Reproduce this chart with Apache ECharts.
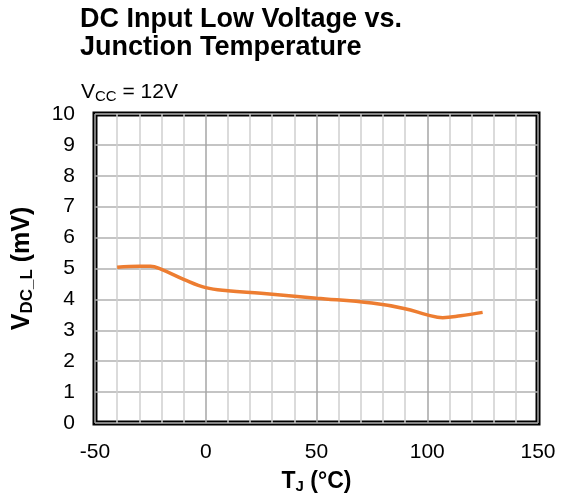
<!DOCTYPE html>
<html><head><meta charset="utf-8">
<script src="https://cdn.jsdelivr.net/npm/echarts@6/dist/echarts.min.js"></script>
<style>html,body{margin:0;padding:0;background:#fff}#c{width:562px;height:499px}</style>
</head><body><div id="c"></div>
<script>
const temps = [-40, -30, -25, -20, -10, 0, 10, 25, 50, 75, 90, 100, 107, 115, 125];
const vdcl  = [5.04, 5.07, 5.07, 4.97, 4.65, 4.38, 4.28, 4.20, 4.04, 3.88, 3.70, 3.50, 3.41, 3.47, 3.58];
const xMin = -50, xMax = 150, yMin = 0, yMax = 10;

const F = 'Liberation Sans, Arial, sans-serif';
const chart = echarts.init(document.getElementById('c'), null, {renderer:'canvas'});
chart.setOption({
  animation: false,
  backgroundColor: '#fff',
  title: [{
    text: 'DC Input Low Voltage vs.\nJunction Temperature',
    left: 80, top: 6, padding: 0,
    textStyle: {fontFamily: F, fontSize: 27, fontWeight: 'bold', color: '#000', lineHeight: 28}
  },{
    text: '{v|V}{s|CC}{v| = 12V}',
    left: 81, top: 80, padding: 0,
    textStyle: {fontWeight: 'normal', rich: {
      v: {fontFamily: F, fontSize: 21, fontWeight: 'normal', color: '#000'},
      s: {fontFamily: F, fontSize: 15, fontWeight: 'normal', color: '#000', padding: [9,0,0,0]}
    }}
  }],
  grid: {left: 95, right: 24, top: 114, bottom: 76, show: true, borderColor: '#000', borderWidth: 5},
  xAxis: {
    type: 'value', min: xMin, max: xMax, interval: 10,
    name: '{b|T}{bs|J}{b| (°C)}', nameLocation: 'middle', nameGap: 46,
    nameTextStyle: {rich: {
      b: {fontFamily: F, fontSize: 23, fontWeight: 'bold', color: '#000'},
      bs: {fontFamily: F, fontSize: 15, fontWeight: 'bold', color: '#000', padding: [10,0,0,0]}
    }},
    axisLine: {show: false}, axisTick: {show: false},
    axisLabel: {margin: 19, fontFamily: F, fontSize: 21, color: '#000',
      formatter: v => (v % 50 === 0 ? String(v) : '')},
    splitLine: {show: true, lineStyle: {color: ['#a6a6a6','#cfcfcf','#cfcfcf','#cfcfcf','#cfcfcf'], width: 1.5}}
  },
  yAxis: {
    type: 'value', min: yMin, max: yMax, interval: 1,
    name: '{b|V}{bs|DC_L}{b| (mV)}', nameLocation: 'middle', nameGap: 59, nameRotate: 90,
    nameTextStyle: {rich: {
      b: {fontFamily: F, fontSize: 25, fontWeight: 'bold', color: '#000'},
      bs: {fontFamily: F, fontSize: 17, fontWeight: 'bold', color: '#000', padding: [10,0,0,0]}
    }},
    axisLine: {show: false}, axisTick: {show: false},
    axisLabel: {margin: 20, fontFamily: F, fontSize: 21, color: '#000'},
    splitLine: {show: true, lineStyle: {color: '#b0b0b0', width: 1.5}}
  },
  series: [{
    type: 'line', smooth: 0.4, showSymbol: false,
    data: temps.map((t, i) => [t, vdcl[i]]),
    lineStyle: {color: '#ED7D31', width: 3.5},
    z: 5
  }]
});
</script></body></html>
